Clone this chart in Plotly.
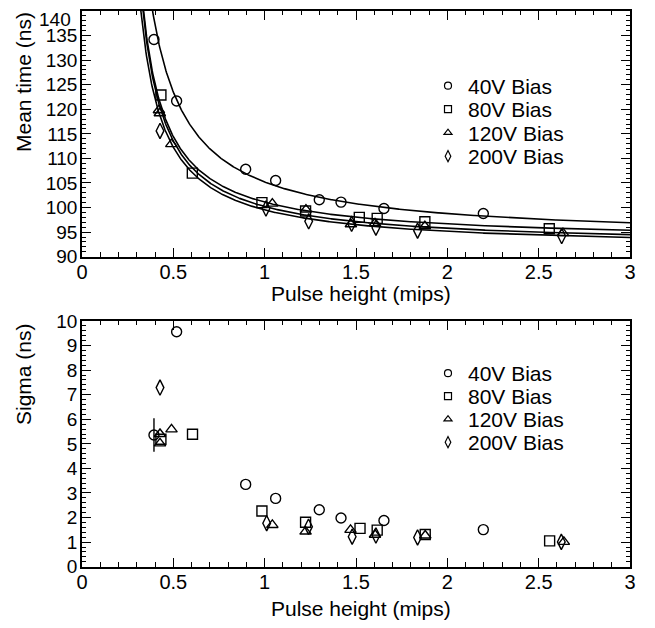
import numpy as np
import plotly.graph_objects as go

# The page body adds an 8px margin, so the figure is drawn 8px in from the corner.
OFF = 8
W, H = 655 - OFF, 628 - OFF

# ---------------- data ----------------
series = ["40V Bias", "80V Bias", "120V Bias", "200V Bias"]
symbols = ["circle-open", "square-open", "triangle-up-open", "diamond-tall-open"]

# Top panel: mean time (ns) vs pulse height (mips)
mt_x_40 = [0.394, 0.518, 0.896, 1.060, 1.299, 1.418, 1.653, 2.197]
mt_y_40 = [134.2, 121.7, 107.8, 105.5, 101.6, 101.1, 99.8, 98.8]
mt_x_80 = [0.432, 0.604, 0.985, 1.224, 1.518, 1.616, 1.877, 2.558]
mt_y_80 = [122.9, 107.0, 101.0, 99.3, 98.0, 97.8, 97.1, 95.7]
mt_x_120 = [0.421, 0.426, 0.489, 1.042, 1.226, 1.472, 1.604, 1.877, 2.633]
mt_y_120 = [119.8, 119.2, 112.9, 100.8, 99.6, 96.6, 96.8, 96.2, 94.8]
mt_x_200 = [0.427, 1.007, 1.241, 1.476, 1.609, 1.837, 2.626]
mt_y_200 = [115.6, 99.8, 97.2, 96.7, 95.9, 95.3, 94.2]

# Fit curves: t = A + B / (x - C)
fit_A = [93.5, 93.11, 92.21, 91.62]
fit_B = [9.6, 6.4, 6.4, 6.4]
fit_C = [0.18, 0.20, 0.20, 0.19]

# Bottom panel: sigma (ns) vs pulse height (mips)
sg_x_40 = [0.394, 0.518, 0.896, 1.060, 1.299, 1.418, 1.653, 2.197]
sg_y_40 = [5.36, 9.56, 3.35, 2.78, 2.32, 1.98, 1.88, 1.51]
sg_e_40 = [0.68, 0, 0, 0, 0, 0, 0, 0]
sg_x_80 = [0.432, 0.605, 0.985, 1.224, 1.522, 1.616, 1.879, 2.560]
sg_y_80 = [5.19, 5.39, 2.27, 1.81, 1.56, 1.49, 1.31, 1.05]
sg_x_120 = [0.427, 0.427, 0.490, 1.042, 1.224, 1.470, 1.604, 1.879, 2.638]
sg_y_120 = [5.40, 5.02, 5.59, 1.70, 1.43, 1.50, 1.30, 1.27, 1.01]
sg_x_200 = [0.427, 1.011, 1.240, 1.479, 1.609, 1.837, 2.624]
sg_y_200 = [7.29, 1.77, 1.63, 1.22, 1.27, 1.19, 1.01]

top_x = [mt_x_40, mt_x_80, mt_x_120, mt_x_200]
top_y = [mt_y_40, mt_y_80, mt_y_120, mt_y_200]
bot_x = [sg_x_40, sg_x_80, sg_x_120, sg_x_200]
bot_y = [sg_y_40, sg_y_80, sg_y_120, sg_y_200]

x_ticks = [0, 0.5, 1, 1.5, 2, 2.5, 3]
x_ticklabels = ["0", "0.5", "1", "1.5", "2", "2.5", "3"]
mt_ticks = [90, 95, 100, 105, 110, 115, 120, 125, 130, 135, 140]
mt_ticklabels = ["90", "95", "100", "105", "110", "115", "120", "125", "130", "135", ""]
mt_top_label = "140"  # drawn slightly lower so it stays inside the page

FONT = "Liberation Sans, Arial, Helvetica, sans-serif"

def px(p):
    return (p - OFF) / W

def py(p):
    return 1 - (p - OFF) / H

fig = go.Figure()

marker_sizes = [10, 10, 10, 11]
legend_sizes = [7, 7, 7, 8]

# fit curves (top)
xf = np.linspace(0.25, 3.0, 800)
for A, B, C in zip(fit_A, fit_B, fit_C):
    yf = A + B / (xf - C)
    fig.add_trace(go.Scatter(x=xf, y=yf, mode="lines", line=dict(color="black", width=1.6),
                             showlegend=False, hoverinfo="skip", xaxis="x", yaxis="y"))

for i in range(4):
    fig.add_trace(go.Scatter(x=top_x[i], y=top_y[i], mode="markers",
                             marker=dict(symbol=symbols[i], size=marker_sizes[i], color="black",
                                         line=dict(color="black", width=1.4)),
                             showlegend=False, xaxis="x", yaxis="y"))
    err = dict(type="data", array=sg_e_40, visible=True, color="black", thickness=1.4, width=0) if i == 0 else None
    fig.add_trace(go.Scatter(x=bot_x[i], y=bot_y[i], mode="markers",
                             marker=dict(symbol=symbols[i], size=marker_sizes[i], color="black",
                                         line=dict(color="black", width=1.4)),
                             error_y=err,
                             showlegend=False, xaxis="x2", yaxis="y2"))

# legend-only entries (one legend per row for exact spacing)
top_rows = [86, 109.5, 133, 156.5]
bot_rows = [373.5, 396.5, 419.5, 442.5]
legends = {}
for i in range(4):
    for panel, rows, off, xa, ya in (("top", top_rows, 1, "x", "y"), ("bot", bot_rows, 5, "x2", "y2")):
        name = "legend" if off + i == 1 else f"legend{off + i}"
        fig.add_trace(go.Scatter(x=[None], y=[None], mode="markers", name=series[i],
                                 marker=dict(symbol=symbols[i], size=legend_sizes[i], color="black",
                                             line=dict(color="black", width=1.2)),
                                 legend=name, showlegend=True, xaxis=xa, yaxis=ya))
        legends[name] = dict(x=px(428), y=py(rows[i]), xanchor="left", yanchor="middle",
                             bgcolor="rgba(0,0,0,0)", borderwidth=0,
                             font=dict(family=FONT, size=21, color="black"),
                             itemsizing="trace")

x_dom = [px(82), px(630)]
axis_common = dict(showline=True, linecolor="black", linewidth=1.5, mirror="ticks",
                   ticks="inside", ticklen=9, tickwidth=1.3, tickcolor="black",
                   showgrid=False, zeroline=False, automargin=False,
                   ticklabeloverflow="allow",
                   tickfont=dict(family=FONT, size=20, color="black"))
yfont = dict(family=FONT, size=19, color="black")

xaxis_common = dict(axis_common, range=[0, 3], tickvals=x_ticks, ticktext=x_ticklabels,
                    minor=dict(ticks="inside", ticklen=4.5, tickwidth=1.1, dtick=0.1,
                               tick0=0, tickcolor="black", showgrid=False),
                    ticklabelstandoff=-3)

fig.update_layout(
    width=W, height=H,
    margin=dict(l=0, r=0, t=0, b=0, autoexpand=False),
    paper_bgcolor="white", plot_bgcolor="white",
    font=dict(family=FONT, size=20, color="black"),
    xaxis=dict(xaxis_common, domain=x_dom, anchor="y"),
    yaxis=dict(axis_common, domain=[py(256.7), py(11)], anchor="x", range=[90, 140],
               tickvals=mt_ticks, ticktext=mt_ticklabels, ticklabelstandoff=-1, tickfont=yfont,
               minor=dict(ticks="inside", ticklen=4.5, tickwidth=1.1, dtick=1,
                          tickcolor="black", showgrid=False)),
    xaxis2=dict(xaxis_common, domain=x_dom, anchor="y2"),
    yaxis2=dict(axis_common, domain=[py(566.7), py(321)], anchor="x2", range=[0, 10],
                dtick=1, tick0=0, ticklabelstandoff=-1, tickfont=yfont,
                minor=dict(ticks="inside", ticklen=4.5, tickwidth=1.1, dtick=0.2,
                           tickcolor="black", showgrid=False)),
    **legends,
)

ann_font = dict(family=FONT, size=21, color="black")
fig.add_annotation(text=mt_top_label, x=px(71.5), y=py(8), xref="paper", yref="paper",
                   showarrow=False, font=yfont,
                   xanchor="right", yanchor="top", borderpad=0)
fig.add_annotation(text="Mean time (ns)", x=px(23), y=py(82), xref="paper", yref="paper",
                   textangle=-90, showarrow=False, font=ann_font, xanchor="center", yanchor="middle")
fig.add_annotation(text="Sigma (ns)", x=px(23), y=py(374), xref="paper", yref="paper",
                   textangle=-90, showarrow=False, font=ann_font, xanchor="center", yanchor="middle")
fig.add_annotation(text="Pulse height (mips)", x=px(361), y=py(293), xref="paper", yref="paper",
                   showarrow=False, font=ann_font, xanchor="center", yanchor="middle")
fig.add_annotation(text="Pulse height (mips)", x=px(361), y=py(608), xref="paper", yref="paper",
                   showarrow=False, font=ann_font, xanchor="center", yanchor="middle")

fig.write_html("out.html")
